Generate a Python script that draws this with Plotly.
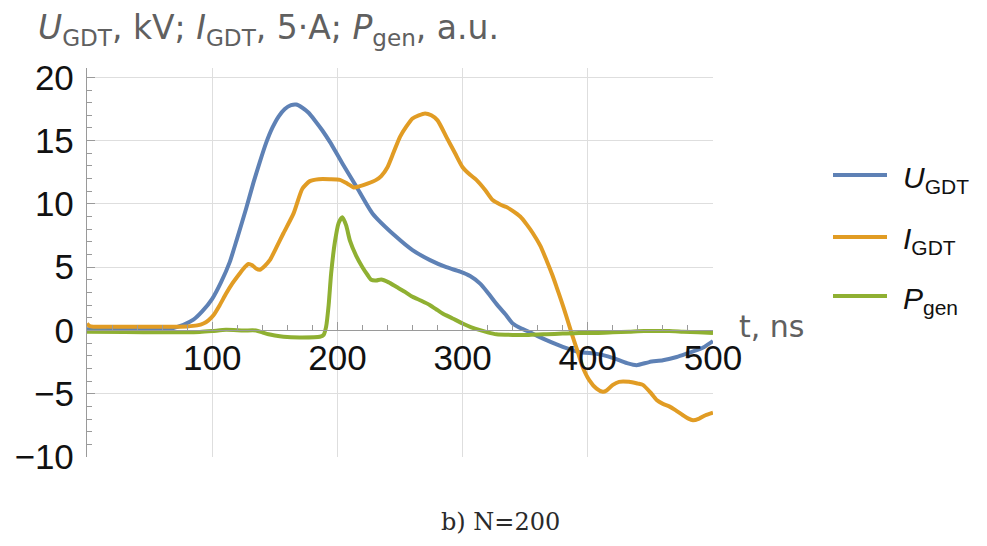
import plotly.graph_objects as go

# ---------------- data ----------------
u_t = [0, 20, 40, 60, 69, 77, 85, 92, 100, 107, 114, 120, 127, 133, 138, 143, 148, 153, 158, 163,
       167, 172, 177, 182, 188, 194, 204, 215, 228, 247, 260, 274, 287, 298, 306, 314, 320, 327,
       334, 340, 347, 353, 360, 367, 380, 393, 407, 416, 425, 432, 439, 449, 460, 471, 480, 487,
       493, 500]
u_v = [0.1, 0.1, 0.1, 0.12, 0.2, 0.45, 0.85, 1.5, 2.5, 3.8, 5.4, 7.3, 9.6, 11.7, 13.3, 14.8, 16.0,
       16.9, 17.5, 17.8, 17.85, 17.6, 17.2, 16.6, 15.8, 14.9, 13.2, 11.4, 9.25, 7.4, 6.35, 5.56,
       5.0, 4.65, 4.3, 3.7, 3.0, 2.1, 1.3, 0.55, 0.15, -0.1, -0.45, -0.77, -1.3, -1.7, -1.85,
       -2.05, -2.35, -2.6, -2.74, -2.5, -2.35, -2.1, -1.8, -1.56, -1.3, -0.85]

i_t = [0, 2, 5, 20, 40, 60, 80, 88, 93, 97, 101, 106, 111, 116, 122, 126, 129, 132, 135, 138, 142,
       146, 151, 157, 165, 172, 178, 185, 194, 202, 208, 213, 218, 224, 231, 235, 240, 245, 250,
       255, 260, 265, 270, 275, 280, 287, 294, 300, 306, 311, 318, 324, 330, 335, 340, 346, 351,
       356, 362, 367, 372, 375, 379, 383, 388, 392, 396, 401, 407, 412, 415, 420, 425, 433, 440,
       444, 450, 455, 460, 465, 470, 476, 480, 484, 489, 494, 500]
i_v = [0.55, 0.35, 0.3, 0.3, 0.3, 0.3, 0.32, 0.4, 0.55, 0.8, 1.2, 2.0, 2.9, 3.7, 4.5, 5.0, 5.25,
       5.15, 4.9, 4.8, 5.1, 5.55, 6.5, 7.7, 9.25, 11.2, 11.8, 11.95, 11.95, 11.9, 11.6, 11.3, 11.4,
       11.6, 11.9, 12.2, 12.9, 14.1, 15.3, 16.1, 16.75, 17.0, 17.15, 17.0, 16.6, 15.3, 14.0, 12.9,
       12.3, 11.9, 11.1, 10.3, 9.95, 9.75, 9.45, 9.0, 8.4, 7.7, 6.7, 5.55, 4.3, 3.45, 2.3, 1.07,
       -0.5, -1.7, -2.9, -3.9, -4.6, -4.85, -4.75, -4.3, -4.06, -4.06, -4.2, -4.3, -4.9, -5.5,
       -5.8, -6.0, -6.3, -6.7, -6.95, -7.1, -6.96, -6.7, -6.5]

p_t = [0, 30, 60, 90, 100, 111, 125, 135, 140, 145, 150, 157, 170, 186, 189, 191, 193, 195, 198,
       201, 204, 207, 210, 215, 220, 224, 227, 231, 235, 241, 247, 254, 260, 267, 274, 280, 284,
       292, 300, 307, 314, 320, 327, 340, 353, 367, 380, 393, 407, 420, 433, 445, 455, 465, 476,
       488, 500]
p_v = [-0.1, -0.12, -0.15, -0.12, -0.05, 0.05, 0.0, 0.0, -0.15, -0.3, -0.4, -0.5, -0.55, -0.5,
       -0.35, 0.3, 2.0, 4.5, 7.0, 8.5, 8.95, 8.3, 7.1, 5.9, 5.0, 4.4, 4.0, 3.95, 4.03, 3.8, 3.45,
       3.05, 2.66, 2.35, 2.0, 1.6, 1.34, 0.95, 0.55, 0.25, 0.02, -0.15, -0.3, -0.35, -0.35, -0.3,
       -0.25, -0.2, -0.2, -0.15, -0.1, -0.05, -0.05, -0.05, -0.1, -0.15, -0.2]

x_ticks = [100, 200, 300, 400, 500]
y_ticks = [-10, -5, 0, 5, 10, 15, 20]
y_tick_text = ["\u221210", "\u22125", "0", "5", "10", "15", "20"]

series_names = ["<i>U</i><sub>GDT</sub>", "<i>I</i><sub>GDT</sub>", "<i>P</i><sub>gen</sub>"]
colors = ["#5E81B5", "#E19C24", "#8FB032"]

# ---------------- layout constants ----------------
# the HTML body has an 8 px margin, so the figure sits at (8, 8) in the page
OFF = 8
W, H = 987 - 2 * OFF, 546 - 2 * OFF
PL, PT, PR, PB = 87, 68, 713, 457          # plot area in page pixels
ML, MT = PL - OFF, PT - OFF
MR, MB = W - ML - (PR - PL), H - MT - (PB - PT)
PW, PH = PR - PL, PB - PT
Y_MIN, Y_MAX = -10, 20.74
X_MIN, X_MAX = 0, 500


def px2paper_x(px):
    return (px - PL) / PW


def py2paper_y(py):
    return (PB - py) / PH


AX_GRAY = "#9a9a9a"
GRID = "#dedede"
SANS = "Liberation Sans, Arial, sans-serif"
WIDE = "DejaVu Sans, sans-serif"

fig = go.Figure()
for t, v, name, c in zip([u_t, i_t, p_t], [u_v, i_v, p_v], series_names, colors):
    fig.add_trace(go.Scatter(x=t, y=v, mode="lines", name=name, showlegend=False,
                             line=dict(color=c, width=4, shape="spline", smoothing=0.6)))

fig.update_layout(
    width=W, height=H,
    margin=dict(l=ML, r=MR, t=MT, b=MB, autoexpand=False),
    paper_bgcolor="white", plot_bgcolor="white",
    xaxis=dict(range=[X_MIN, X_MAX], tickvals=x_ticks, ticks="inside", ticklen=8,
               tickcolor=AX_GRAY, tickwidth=1, showline=True, linecolor=AX_GRAY, linewidth=1.3,
               showgrid=True, gridcolor=GRID, gridwidth=1, zeroline=False, automargin=False,
               anchor="free", position=(0 - Y_MIN) / (Y_MAX - Y_MIN), ticklabelstandoff=-4,
               minor=dict(dtick=20, ticks="inside", ticklen=5, tickcolor=AX_GRAY, showgrid=False),
               tickfont=dict(family=SANS, size=35, color="#111111")),
    yaxis=dict(range=[Y_MIN, Y_MAX], tickvals=y_ticks, ticktext=y_tick_text, ticks="inside",
               ticklen=8, tickcolor=AX_GRAY, tickwidth=1, showline=True, linecolor=AX_GRAY,
               linewidth=1.3, showgrid=True, gridcolor=GRID, gridwidth=1, zeroline=False,
               automargin=False, ticklabelstandoff=5,
               minor=dict(dtick=1, ticks="inside", ticklen=5, tickcolor=AX_GRAY, showgrid=False),
               tickfont=dict(family=SANS, size=35, color="#111111")),
)

annotations = [
    dict(text="<i>U</i><sub>GDT</sub>, kV; <i>I</i><sub>GDT</sub>, 5\u00b7A; <i>P</i><sub>gen</sub>, a.u.",
         x=px2paper_x(36), y=py2paper_y(30), xanchor="left", yanchor="middle",
         font=dict(family=WIDE, size=33, color="#606060")),
    dict(text="t, ns", x=px2paper_x(737), y=py2paper_y(326), xanchor="left", yanchor="middle",
         font=dict(family=WIDE, size=30, color="#606060")),
    dict(text="b) N=200", x=px2paper_x(500), y=py2paper_y(522), xanchor="center", yanchor="middle",
         font=dict(family="DejaVu Serif, serif", size=24, color="#2a2a2a")),
]
legend_y = [175, 237, 296]
shapes = []
for name, c, ly in zip(series_names, colors, legend_y):
    shapes.append(dict(type="line", xref="paper", yref="paper",
                       x0=px2paper_x(833), x1=px2paper_x(887),
                       y0=py2paper_y(ly), y1=py2paper_y(ly), line=dict(color=c, width=4)))
    annotations.append(dict(text=name, x=px2paper_x(901), y=py2paper_y(ly + 4), xanchor="left",
                            yanchor="middle", font=dict(family=SANS, size=30, color="#111111")))

for a in annotations:
    a.update(xref="paper", yref="paper", showarrow=False)
fig.update_layout(annotations=annotations, shapes=shapes)

fig.write_html("out.html")
